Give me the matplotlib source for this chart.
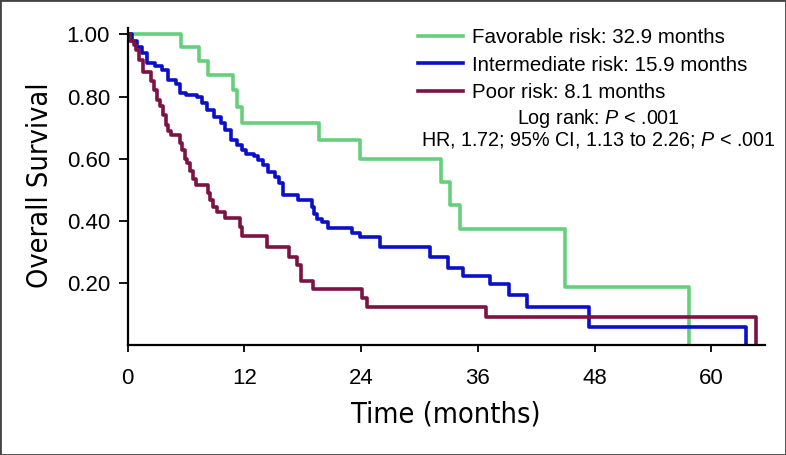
import matplotlib
import matplotlib.pyplot as plt
from matplotlib.patches import Rectangle

matplotlib.use("Agg")

plt.rcParams["font.family"] = ["Liberation Sans", "DejaVu Sans"]
plt.rcParams["mathtext.fontset"] = "custom"
plt.rcParams["mathtext.rm"] = "Liberation Sans"
plt.rcParams["mathtext.it"] = "Liberation Sans:italic"

# Kaplan-Meier steps (months, survival)
fav_t = [0, 5.45, 7.3, 8.3, 10.85, 11.2, 11.7, 19.7, 23.9, 32.2, 33.1, 34.2, 45.0, 57.7]
fav_s = [1.0, 0.96, 0.913, 0.868, 0.82, 0.766, 0.714, 0.661, 0.600, 0.525, 0.451, 0.375, 0.187, 0.0]

int_t = [0, 0.4, 1.0, 1.5, 2.0, 2.8, 3.5, 4.1, 5.0, 5.4, 6.0, 7.1, 7.6, 8.2, 8.9,
         9.6, 10.0, 10.6, 11.2, 11.8, 12.2, 13.0, 13.4, 13.9, 14.4, 15.1, 15.6, 16.0,
         17.5, 18.9, 19.2, 19.5, 20.0, 20.6, 23.1, 23.9, 25.9, 31.1, 32.9, 34.5, 37.2,
         39.2, 41.1, 47.4, 63.6]
int_s = [1.0, 0.98, 0.96, 0.94, 0.907, 0.90, 0.885, 0.855, 0.842, 0.812, 0.805, 0.80,
         0.778, 0.757, 0.735, 0.714, 0.692, 0.66, 0.645, 0.628, 0.615, 0.61, 0.596, 0.58,
         0.558, 0.542, 0.521, 0.483, 0.467, 0.445, 0.424, 0.405, 0.397, 0.376, 0.360,
         0.349, 0.317, 0.283, 0.248, 0.223, 0.197, 0.162, 0.122, 0.060, 0.0]

poor_t = [0, 0.2, 0.6, 0.9, 1.2, 1.6, 2.4, 2.7, 3.0, 3.3, 3.6, 3.9, 4.1, 4.5, 5.4,
          5.6, 5.9, 6.1, 6.4, 6.7, 7.0, 8.3, 8.5, 8.8, 9.2, 10.0, 11.5, 11.8, 14.3,
          16.6, 17.4, 17.8, 19.1, 24.1, 24.6, 36.8, 64.6]
poor_s = [1.0, 0.98, 0.965, 0.95, 0.917, 0.88, 0.85, 0.82, 0.79, 0.77, 0.74, 0.71,
          0.69, 0.676, 0.65, 0.628, 0.60, 0.585, 0.56, 0.535, 0.515, 0.49, 0.467, 0.446,
          0.43, 0.408, 0.381, 0.351, 0.315, 0.285, 0.258, 0.208, 0.181, 0.151, 0.122,
          0.090, 0.0]

labels = ["Favorable risk: 32.9 months", "Intermediate risk: 15.9 months", "Poor risk: 8.1 months"]
colors = ["#66cf7c", "#0a0fc8", "#7d1245"]

x_ticks = [0, 12, 24, 36, 48, 60]
y_ticks = [0.2, 0.4, 0.6, 0.8, 1.0]

fig = plt.figure(figsize=(7.86, 4.55), dpi=100)
ax = fig.add_axes([0.1625, 0.241, 0.8105, 0.697])

for t, s, lab, col in zip([fav_t, int_t, poor_t], [fav_s, int_s, poor_s], labels, colors):
    ax.step(t, s, where="post", color=col, linewidth=2.6, label=lab)

ax.set_xlim(0, 65.5)
ax.set_ylim(0, 1.02)
ax.set_xticks(x_ticks)
ax.set_yticks(y_ticks)
ax.set_yticklabels([f"{v:.2f}" for v in y_ticks])
ax.tick_params(axis="both", labelsize=16, width=1.3, colors="black")
ax.tick_params(axis="x", length=5, pad=11)
ax.tick_params(axis="y", length=6.8, pad=6)
for side in ["top", "right"]:
    ax.spines[side].set_visible(False)
for side in ["left", "bottom"]:
    ax.spines[side].set_linewidth(1.6)

cond = dict(family="DejaVu Sans", fontstretch="condensed", fontsize=20.7)
ax.set_xlabel("Time (months)", **cond)
ax.set_ylabel("Overall Survival", **cond)
ax.xaxis.set_label_coords(446 / 786, 1 - 415 / 455, transform=fig.transFigure)
ax.xaxis.label.set_va("center")
ax.yaxis.set_label_coords(40 / 786, 1 - 185 / 455, transform=fig.transFigure)
ax.yaxis.label.set_va("center")

ax.legend(loc="upper left", bbox_to_anchor=(418 / 786, 1 - 28 / 455),
          bbox_transform=fig.transFigure, frameon=False, fontsize=14.8,
          handlelength=2.2, handletextpad=0.42, labelspacing=0.42,
          borderpad=0, borderaxespad=0)

fig.text(598 / 786, 1 - 119 / 455, r"Log rank: $\mathit{P}$ < .001", fontsize=14.2,
         ha="center", va="center")
fig.text(598 / 786, 1 - 140 / 455, r"HR, 1.72; 95% CI, 1.13 to 2.26; $\mathit{P}$ < .001",
         fontsize=14.2, ha="center", va="center")

fig.add_artist(Rectangle((0, 0), 1, 1, transform=fig.transFigure, fill=False,
                         edgecolor="#444444", linewidth=2))

fig.savefig("out.png", dpi=100)
plt.close(fig)
